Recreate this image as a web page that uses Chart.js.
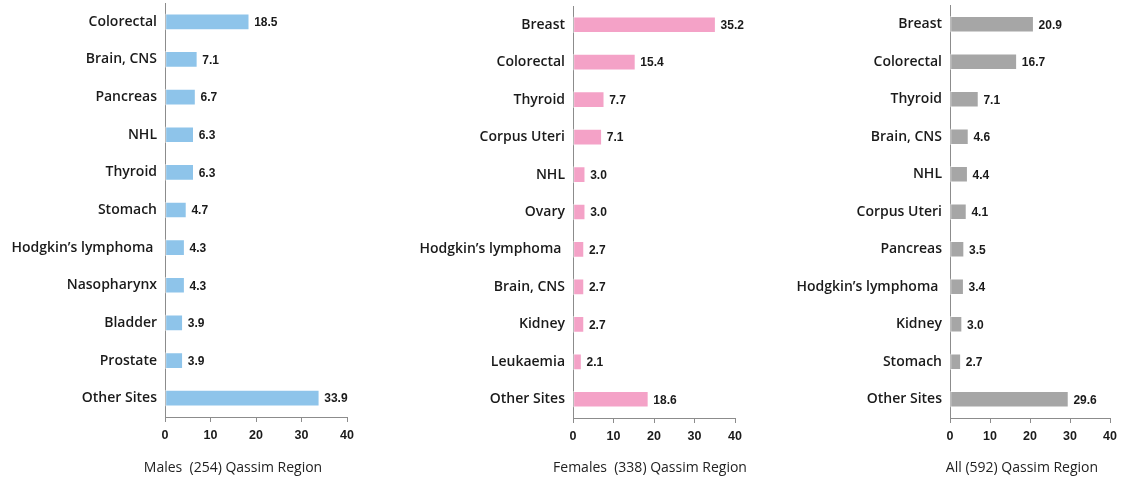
<!DOCTYPE html>
<html><head><meta charset="utf-8">
<script src="https://cdn.jsdelivr.net/npm/chart.js@4/dist/chart.umd.min.js"></script>
<style>
html,body{margin:0;padding:0;background:#fff;width:1121px;height:480px;overflow:hidden}
canvas{position:absolute;top:0}
</style></head><body>
<canvas id="c1" width="370" height="480" style="left:0px"></canvas>
<canvas id="c2" width="375" height="480" style="left:380px"></canvas>
<canvas id="c3" width="361" height="480" style="left:760px"></canvas>
<script>
const maleSites = ["Colorectal","Brain, CNS","Pancreas","NHL","Thyroid","Stomach","Hodgkin’s lymphoma ","Nasopharynx","Bladder","Prostate","Other Sites"];
const maleValues = [18.5,7.1,6.7,6.3,6.3,4.7,4.3,4.3,3.9,3.9,33.9];
const femaleSites = ["Breast","Colorectal","Thyroid","Corpus Uteri","NHL","Ovary","Hodgkin’s lymphoma ","Brain, CNS","Kidney","Leukaemia","Other Sites"];
const femaleValues = [35.2,15.4,7.7,7.1,3.0,3.0,2.7,2.7,2.7,2.1,18.6];
const allSites = ["Breast","Colorectal","Thyroid","Brain, CNS","NHL","Corpus Uteri","Pancreas","Hodgkin’s lymphoma ","Kidney","Stomach","Other Sites"];
const allValues = [20.9,16.7,7.1,4.6,4.4,4.1,3.5,3.4,3.0,2.7,29.6];
const xTicks = [0,10,20,30,40];
const titles = ["Males  (254) Qassim Region","Females  (338) Qassim Region","All (592) Qassim Region"];

const labelFont = "'Open Sans', sans-serif";
const valueFont = "'Liberation Sans', 'DejaVu Sans', sans-serif";

const valueLabels = {
  id: 'valueLabels',
  afterDatasetsDraw(chart, args, opts) {
    const ctx = chart.ctx;
    const meta = chart.getDatasetMeta(0);
    ctx.save();
    ctx.font = "bold 12px " + valueFont;
    ctx.fillStyle = "#1a1a1a";
    ctx.textAlign = "left";
    ctx.textBaseline = "middle";
    meta.data.forEach((bar, i) => {
      const v = chart.data.datasets[0].data[i];
      ctx.fillText(v.toFixed(1), bar.x + 5, bar.y + 1);
    });
    // chart caption below the axis
    ctx.font = "14px " + labelFont;
    ctx.fillStyle = "#222222";
    ctx.textAlign = "center";
    ctx.fillText(opts.text, opts.cx, 468);
    ctx.restore();
  }
};

function makeChart(id, labels, values, color, title, titleCx, yWidth, padRight, padTop, xHeight, barTh) {
  new Chart(document.getElementById(id), {
    type: 'bar',
    data: { labels: labels, datasets: [{ data: values, backgroundColor: color, borderColor: 'rgba(255,255,255,0.6)', borderWidth: 1, barThickness: barTh, borderSkipped: false }] },
    options: {
      indexAxis: 'y',
      responsive: false,
      animation: false,
      devicePixelRatio: 1,
      layout: { autoPadding: false, padding: { top: padTop, right: padRight, left: 0, bottom: 0 } },
      plugins: { legend: { display: false }, tooltip: { enabled: false }, valueLabels: { text: title, cx: titleCx } },
      scales: {
        y: {
          afterFit(s) { s.width = yWidth; s.paddingTop = 0; s.paddingBottom = 0; },
          grid: { display: false, drawTicks: false },
          border: { display: true, color: '#8c8c8c', width: 1 },
          ticks: { color: '#1a1a1a', padding: 8, font: { family: labelFont, size: 14, weight: '600' } }
        },
        x: {
          min: 0, max: 40,
          afterBuildTicks(s) { s.ticks = xTicks.map(v => ({ value: v })); },
          afterFit(s) { s.height = xHeight; s.paddingLeft = 0; s.paddingRight = 0; },
          grid: { drawOnChartArea: false, drawTicks: true, tickLength: 5, color: '#8c8c8c' },
          border: { display: true, color: '#8c8c8c', width: 1 },
          ticks: { color: '#1a1a1a', padding: 6, font: { family: valueFont, size: 12.5, weight: 'bold' } }
        }
      }
    },
    plugins: [valueLabels]
  });
}

makeChart('c1', maleSites, maleValues, '#8EC4EA', titles[0], 233, 165, 23, 3, 63, 16);
makeChart('c2', femaleSites, femaleValues, '#F4A2C7', titles[1], 650 - 380, 193, 20, 6, 62, 16);
makeChart('c3', allSites, allValues, '#A6A6A6', titles[2], 1022 - 760, 190, 11, 5.5, 62, 16);
</script>
</body></html>
